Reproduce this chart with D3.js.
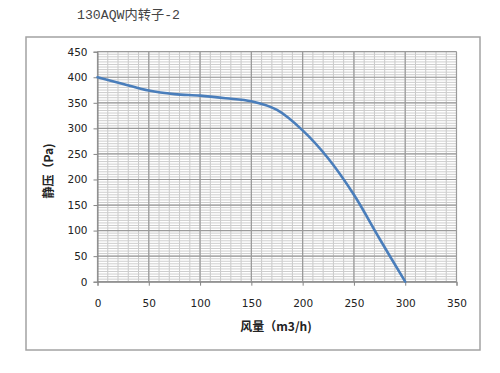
<!DOCTYPE html>
<html>
<head>
<meta charset="utf-8">
<script src="https://cdn.jsdelivr.net/npm/d3@7"></script>
<style>
body{margin:0;background:#fff;}
svg{display:block;}
</style>
</head>
<body>
<script>
// flow (m3/h) vs static pressure (Pa)
var flow=[0,25,50,75,100,125,150,175,200,225,250,275,300];
var pressure=[400,387,374,367,364,359,353,336,296,241,170,84,0];
var xTicks=[0,50,100,150,200,250,300,350];
var yTicks=[0,50,100,150,200,250,300,350,400,450];
var title="130AQW内转子-2";
var xTitle="风量（m3/h)";
var yTitle="静压（Pa)";

var W=500,H=373;
var svg=d3.select("body").append("svg").attr("width",W).attr("height",H);

// outer chart frame
svg.append("rect").attr("x",26).attr("y",37).attr("width",454).attr("height",313)
	.attr("fill","#fff").attr("stroke","#a3a3a3").attr("stroke-width",1.5);

svg.append("text").attr("x",77).attr("y",19)
	.attr("textLength",103).attr("lengthAdjust","spacingAndGlyphs")
	.style("font-family","'Liberation Mono','Noto Sans CJK SC',monospace")
	.style("font-size","13px").attr("fill","#444")
	.text(title);

var x=d3.scaleLinear().domain([0,350]).range([97.5,456.5]);
var y=d3.scaleLinear().domain([0,450]).range([281.7,51.7]);

var g=svg.append("g");

// minor grid
g.selectAll(".vmin").data(d3.range(0,351,10)).enter().append("line")
	.attr("x1",function(d){return x(d);}).attr("x2",function(d){return x(d);})
	.attr("y1",y(0)).attr("y2",y(450))
	.attr("stroke","#c8c8c8").attr("stroke-width",1);
g.selectAll(".hmin").data(d3.range(0,451,5)).enter().append("line")
	.attr("x1",x(0)).attr("x2",x(350))
	.attr("y1",function(d){return y(d);}).attr("y2",function(d){return y(d);})
	.attr("stroke","#cdcdcd").attr("stroke-width",1);
// major grid
g.selectAll(".vmaj").data(xTicks).enter().append("line")
	.attr("x1",function(d){return x(d);}).attr("x2",function(d){return x(d);})
	.attr("y1",y(0)).attr("y2",y(450))
	.attr("stroke","#9a9a9a").attr("stroke-width",1.2);
g.selectAll(".hmaj").data(yTicks).enter().append("line")
	.attr("x1",x(0)).attr("x2",x(350))
	.attr("y1",function(d){return y(d);}).attr("y2",function(d){return y(d);})
	.attr("stroke","#9a9a9a").attr("stroke-width",1.2);

// axes
var xAxis=svg.append("g").attr("transform","translate(0,"+y(0)+")")
	.call(d3.axisBottom(x).tickValues(xTicks).tickSize(4).tickPadding(14));
var yAxis=svg.append("g").attr("transform","translate("+x(0)+",0)")
	.call(d3.axisLeft(y).tickValues(yTicks).tickSize(4).tickPadding(6));
[xAxis,yAxis].forEach(function(a){
	a.select(".domain").attr("stroke","#868686");
	a.selectAll(".tick line").attr("stroke","#868686");
	a.selectAll("text").attr("fill","#222")
		.style("font-family","'DejaVu Sans',sans-serif").style("font-size","10.5px");
});

// curve
var pts=flow.map(function(d,i){return [d,pressure[i]];});
var line=d3.line().x(function(d){return x(d[0]);}).y(function(d){return y(d[1]);})
	.curve(d3.curveCatmullRom.alpha(0.5));
svg.append("path").datum(pts).attr("d",line)
	.attr("fill","none").attr("stroke","#4a7ebb").attr("stroke-width",2.6)
	.attr("stroke-linecap","round");

// axis titles
svg.append("text").attr("x",276).attr("y",331).attr("text-anchor","middle")
	.style("font-family","'Noto Sans CJK SC',sans-serif").style("font-size","12px")
	.style("font-weight","bold").attr("fill","#222").text(xTitle);
svg.append("text").attr("transform","translate(53,171) rotate(-90)").attr("text-anchor","middle")
	.style("font-family","'Noto Sans CJK SC',sans-serif").style("font-size","12px")
	.style("font-weight","bold").attr("fill","#222").text(yTitle);
</script>
</body>
</html>
